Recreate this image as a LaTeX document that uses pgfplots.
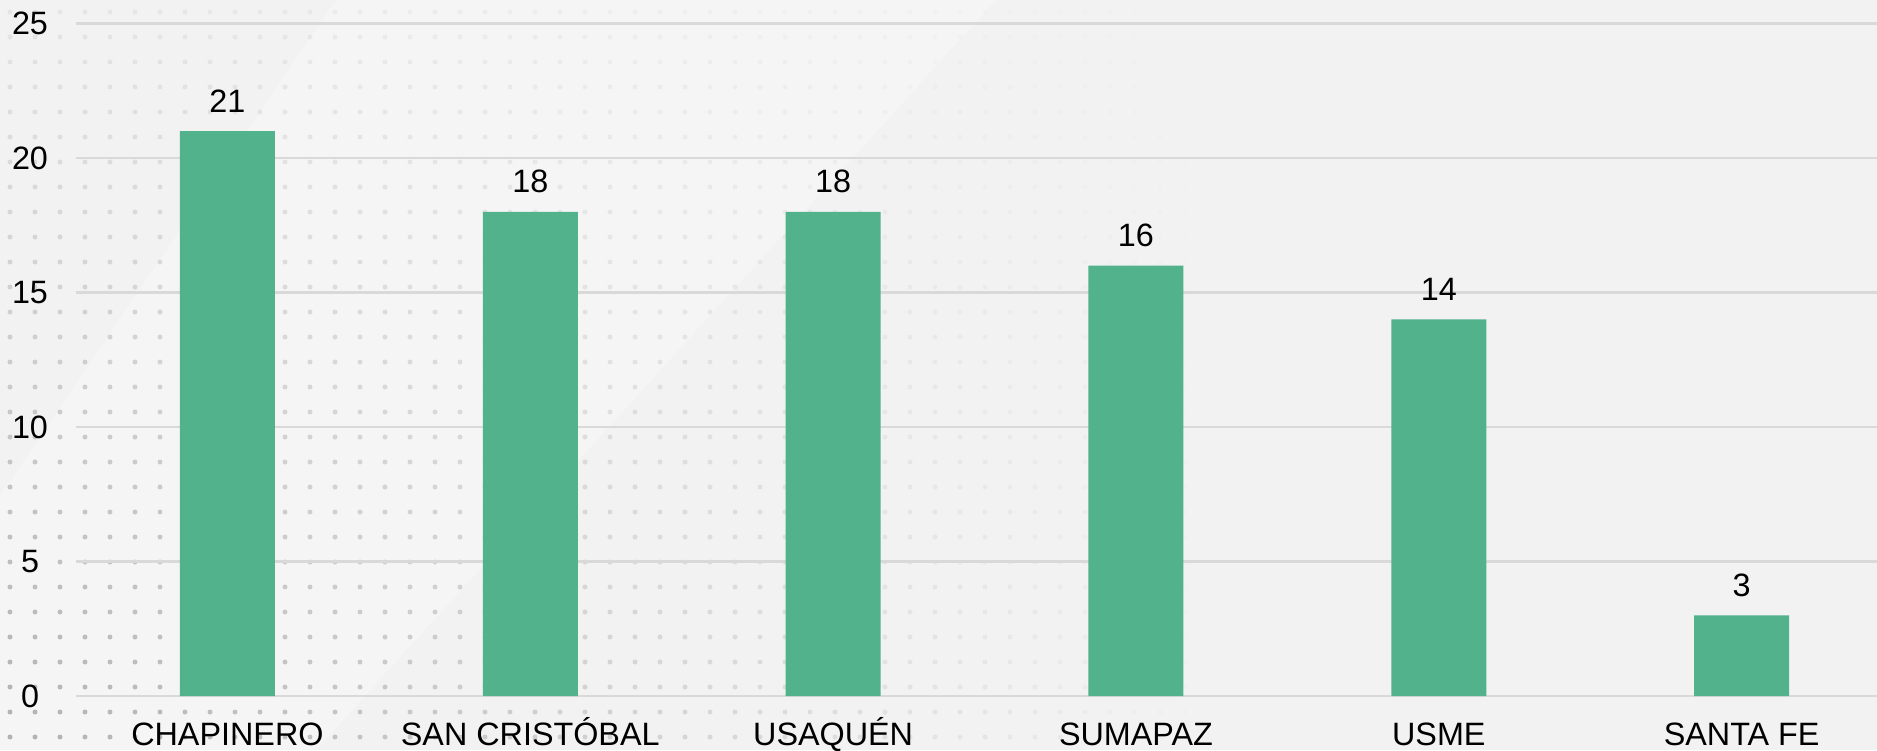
\documentclass[border=0pt]{standalone}
\usepackage{pgfplots}
\pgfplotsset{compat=1.18}
\usepackage{fontspec}
\setmainfont{Liberation Sans}
\definecolor{barG}{HTML}{52B28C}
\definecolor{bgG}{HTML}{F2F2F2}
\definecolor{gridG}{HTML}{D9D9D9}
\newcommand{\lbl}{\fontsize{9.2}{11}\selectfont}
\begin{document}
\begin{tikzpicture}
% background (1px = 0.01cm, axis origin at pixel 76,696)
\path[use as bounding box, fill=bgG] (-0.76,-0.54) rectangle (18.01,6.96);
\fill[white, opacity=0.3] (2.6,6.96) -- (9.2,6.96) -- (2.4,-0.54) -- (-0.76,-0.54) -- (-0.76,2.0) -- cycle;
\foreach \i in {0,...,48} {
  \foreach \j in {0,...,29} {
    \pgfmathsetmacro\op{max(0,1-\i/48)*(0.2+0.8*\j/29)}
    \fill[black!30, opacity=\op] ({(10+25*\i-76)/100},{(684-25*\j)/100}) circle (0.025);
  }
}
\begin{axis}[
  scale only axis, width=18.01cm, height=6.725cm,
  xmin=-0.5, xmax=5.447, ymin=0, ymax=25,
  ybar, bar width=0.95cm,
  ytick={0,5,...,25}, ymajorgrids,
  grid style={gridG, line width=0.6pt},
  axis line style={draw=none}, major tick length=0pt,
  xtick={0,...,5},
  xticklabels={CHAPINERO,SAN CRISTÓBAL,USAQUÉN,SUMAPAZ,USME,SANTA FE},
  xticklabel style={anchor=base, yshift=-0.49cm, font=\lbl},
  yticklabel style={anchor=center, xshift=-0.46cm, font=\lbl},
  /pgf/number format/assume math mode=true,
  nodes near coords,
  nodes near coords style={anchor=base, yshift=0.19cm, font=\lbl, text=black},
  clip=false]
\addplot[fill=barG, draw=none] coordinates {
  (0,21) (1,18) (2,18) (3,16) (4,14) (5,3)};
\end{axis}
\end{tikzpicture}
\end{document}
